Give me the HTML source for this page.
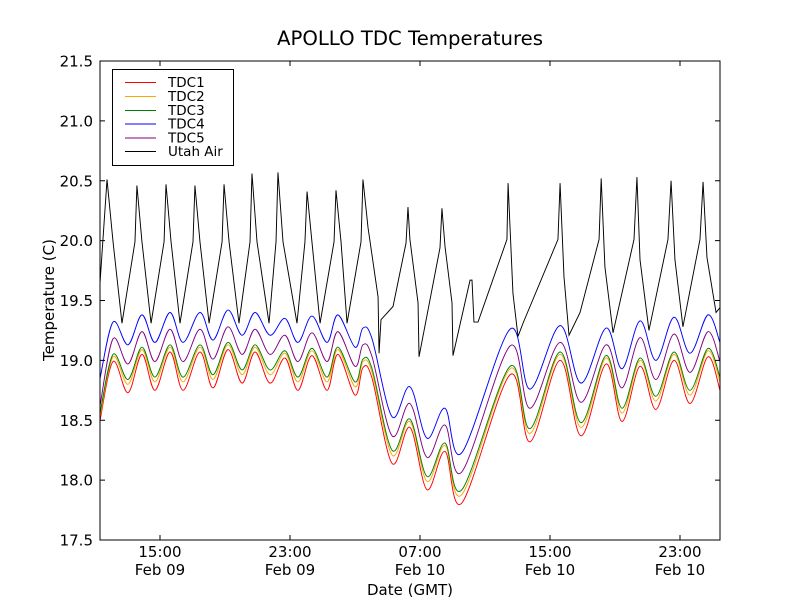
<!DOCTYPE html>
<html><head><meta charset="utf-8"><style>
html,body{margin:0;padding:0;background:#fff;}
svg{display:block;font-family:"DejaVu Sans","Liberation Sans",sans-serif;}
</style></head><body>
<svg id="chart" width="800" height="600" viewBox="0 0 800 600" xmlns="http://www.w3.org/2000/svg">
<rect x="0" y="0" width="800" height="600" fill="#fff"/>
<text x="410" y="45" text-anchor="middle" font-size="19.7">APOLLO TDC Temperatures</text>
<g id="plot"></g>
<rect x="100" y="61" width="620" height="479" fill="none" stroke="#000" stroke-width="1"/>
<g id="axes"></g>
<text x="410" y="595" text-anchor="middle" font-size="15">Date (GMT)</text>
<text transform="translate(54,300) rotate(-90)" text-anchor="middle" font-size="15">Temperature (C)</text>
<g>
<rect x="112.5" y="69.5" width="121" height="96" fill="#fff" stroke="#000" stroke-width="1"/>
<g id="legend-items"></g>
</g>
</svg>
<script>
// hours since 00:00 Feb 09 (GMT)
const tdcHours = [11.31,12.11,13.03,13.89,14.69,15.62,16.42,17.46,18.26,19.18,20.05,20.85,21.77,22.69,23.49,24.35,25.28,25.95,27.00,27.49,28.05,29.28,30.38,31.43,32.54,33.58,36.54,37.77,39.62,40.91,42.45,43.43,44.54,45.52,46.63,47.62,48.72,49.46];
const tdc1 = [18.50,18.99,18.73,19.05,18.75,19.07,18.75,19.07,18.77,19.09,18.81,19.07,18.81,19.02,18.75,19.04,18.75,19.05,18.71,18.94,18.85,18.14,18.44,17.92,18.24,17.81,18.88,18.32,19.00,18.37,18.97,18.49,18.95,18.59,19.00,18.64,19.03,18.75];
const tdc2 = [18.53,19.03,18.80,19.09,18.82,19.11,18.82,19.11,18.84,19.13,18.88,19.11,18.88,19.06,18.82,19.08,18.82,19.09,18.78,18.99,18.90,18.21,18.49,17.99,18.29,17.88,18.93,18.39,19.05,18.44,19.02,18.56,19.00,18.66,19.05,18.71,19.08,18.82];
const tdc3 = [18.56,19.05,18.84,19.11,18.86,19.13,18.86,19.13,18.88,19.15,18.92,19.13,18.92,19.08,18.86,19.10,18.86,19.11,18.82,19.01,18.93,18.25,18.51,18.03,18.31,17.92,18.95,18.43,19.07,18.48,19.04,18.60,19.02,18.70,19.07,18.75,19.10,18.86];
const tdc4 = [18.85,19.32,19.13,19.38,19.15,19.40,19.15,19.40,19.17,19.42,19.21,19.40,19.21,19.35,19.15,19.37,19.15,19.38,19.11,19.27,19.18,18.53,18.78,18.35,18.60,18.23,19.26,18.76,19.29,18.81,19.27,18.93,19.33,19.00,19.36,19.06,19.38,19.15];
const tdc5 = [18.62,19.18,18.97,19.24,18.99,19.26,18.99,19.26,19.01,19.28,19.05,19.26,19.05,19.21,18.99,19.23,18.99,19.24,18.95,19.13,19.03,18.37,18.64,18.19,18.46,18.07,19.12,18.60,19.15,18.65,19.13,18.77,19.19,18.84,19.22,18.90,19.24,18.99];
const airHours = [11.31,11.74,12.11,12.66,13.46,13.58,13.89,14.45,15.25,15.37,15.68,16.23,17.03,17.15,17.46,18.02,18.82,18.94,19.25,19.86,20.54,20.66,20.97,21.71,22.14,22.26,22.57,23.43,23.92,24.05,24.35,24.85,25.71,25.83,26.14,26.51,27.37,27.49,27.80,28.42,28.48,28.60,29.34,30.14,30.26,30.38,30.88,30.94,32.23,32.35,32.54,32.97,33.03,34.08,34.20,34.32,34.57,36.35,36.42,36.72,37.03,37.34,39.49,39.62,39.86,40.17,40.85,42.02,42.15,42.38,42.88,44.17,44.35,44.54,45.09,46.26,46.45,46.69,47.18,48.23,48.42,48.66,49.22,49.46];
const utahAir = [19.65,20.51,19.99,19.31,19.99,20.46,19.99,19.31,19.99,20.47,19.99,19.31,19.99,20.46,19.99,19.31,19.99,20.47,19.99,19.31,19.99,20.56,19.99,19.31,19.99,20.57,19.99,19.31,19.99,20.41,19.99,19.31,19.99,20.42,19.99,19.31,19.99,20.51,20.11,19.53,19.06,19.34,19.45,19.98,20.28,20.01,19.48,19.03,19.94,20.27,19.95,19.48,19.04,19.67,19.67,19.32,19.32,20.01,20.48,19.56,19.20,19.31,20.01,20.48,19.70,19.21,19.40,20.01,20.52,19.78,19.23,20.01,20.53,19.84,19.25,20.01,20.50,19.84,19.28,20.01,20.49,19.86,19.40,19.44];
const yTicks = [17.5,18.0,18.5,19.0,19.5,20.0,20.5,21.0,21.5];
const xTickHours = [15,23,31,39,47];
const xTickTimes = ["15:00","23:00","07:00","15:00","23:00"];
const xTickDates = ["Feb 09","Feb 09","Feb 10","Feb 10","Feb 10"];
const seriesNames = ["TDC1","TDC2","TDC3","TDC4","TDC5","Utah Air"];
const seriesColors = ["#ff0000","#ffa500","#008000","#0000ff","#800080","#000000"];

const NS="http://www.w3.org/2000/svg";
const X0=100,X1=720,Y0=540,Y1=61;
const H0=11.3077, H1=11.3077+620/16.25;
function xs(h){return X0+(h-H0)/(H1-H0)*(X1-X0);}
function ys(v){return Y0-(v-17.5)/(21.5-17.5)*(Y0-Y1);}
function mk(tag,attrs,parent){const e=document.createElementNS(NS,tag);for(const k in attrs)e.setAttribute(k,attrs[k]);parent.appendChild(e);return e;}
function smoothPath(hs,vs){
  const p=hs.map((h,i)=>[xs(h),ys(vs[i])]);
  let d="M"+p[0][0].toFixed(2)+","+p[0][1].toFixed(2);
  for(let i=0;i<p.length-1;i++){
    const a=p[Math.max(0,i-1)],b=p[i],c=p[i+1],e=p[Math.min(p.length-1,i+2)];
    const c1=[b[0]+(c[0]-a[0])/6,b[1]+(c[1]-a[1])/6];
    const c2=[c[0]-(e[0]-b[0])/6,c[1]-(e[1]-b[1])/6];
    d+=" C"+c1[0].toFixed(2)+","+c1[1].toFixed(2)+" "+c2[0].toFixed(2)+","+c2[1].toFixed(2)+" "+c[0].toFixed(2)+","+c[1].toFixed(2);
  }
  return d;
}
const plot=document.getElementById("plot");
const tdcs=[tdc1,tdc2,tdc3,tdc4,tdc5];
tdcs.forEach((vals,i)=>{
  const el=mk("path",{d:smoothPath(tdcHours,vals),fill:"none",stroke:seriesColors[i],"stroke-width":"0.95"},plot);
  
  
});
{
  const pts=airHours.map((h,i)=>xs(h).toFixed(2)+","+ys(utahAir[i]).toFixed(2)).join(" ");
  const el=mk("polyline",{points:pts,fill:"none",stroke:"#000","stroke-width":"0.95"},plot);
  
  
}
const axes=document.getElementById("axes");
yTicks.forEach(v=>{
  const y=ys(v);
  const t1=mk("line",{x1:X0,x2:X0+5,y1:y,y2:y,stroke:"#000"},axes);
  
  
  mk("line",{x1:X1-5,x2:X1,y1:y,y2:y,stroke:"#000"},axes);
  const tx=mk("text",{x:X0-7,y:y+5.5,"text-anchor":"end","font-size":"15"},axes);
  tx.textContent=v.toFixed(1);
  
  
});
xTickHours.forEach((h,i)=>{
  const x=xs(h);
  const t1=mk("line",{x1:x,x2:x,y1:Y0,y2:Y0-5,stroke:"#000"},axes);
  
  
  mk("line",{x1:x,x2:x,y1:Y1,y2:Y1+5,stroke:"#000"},axes);
  const a=mk("text",{x:x,y:557,"text-anchor":"middle","font-size":"15"},axes);
  a.textContent=xTickTimes[i];
  
  
  const b=mk("text",{x:x,y:575,"text-anchor":"middle","font-size":"15"},axes);
  b.textContent=xTickDates[i];
  
  
});
const leg=document.getElementById("legend-items");
const rowY=[82.5,96.5,110.5,124,138,151.5];
seriesNames.forEach((n,i)=>{
  const g=mk("g",{},leg);
  
  
  mk("line",{x1:125,x2:156,y1:rowY[i],y2:rowY[i],stroke:seriesColors[i],"stroke-width":"0.95"},g);
  const t=mk("text",{x:168,y:rowY[i]+4.7,"font-size":"13.5"},g);
  t.textContent=n;
});
</script>
</body></html>
